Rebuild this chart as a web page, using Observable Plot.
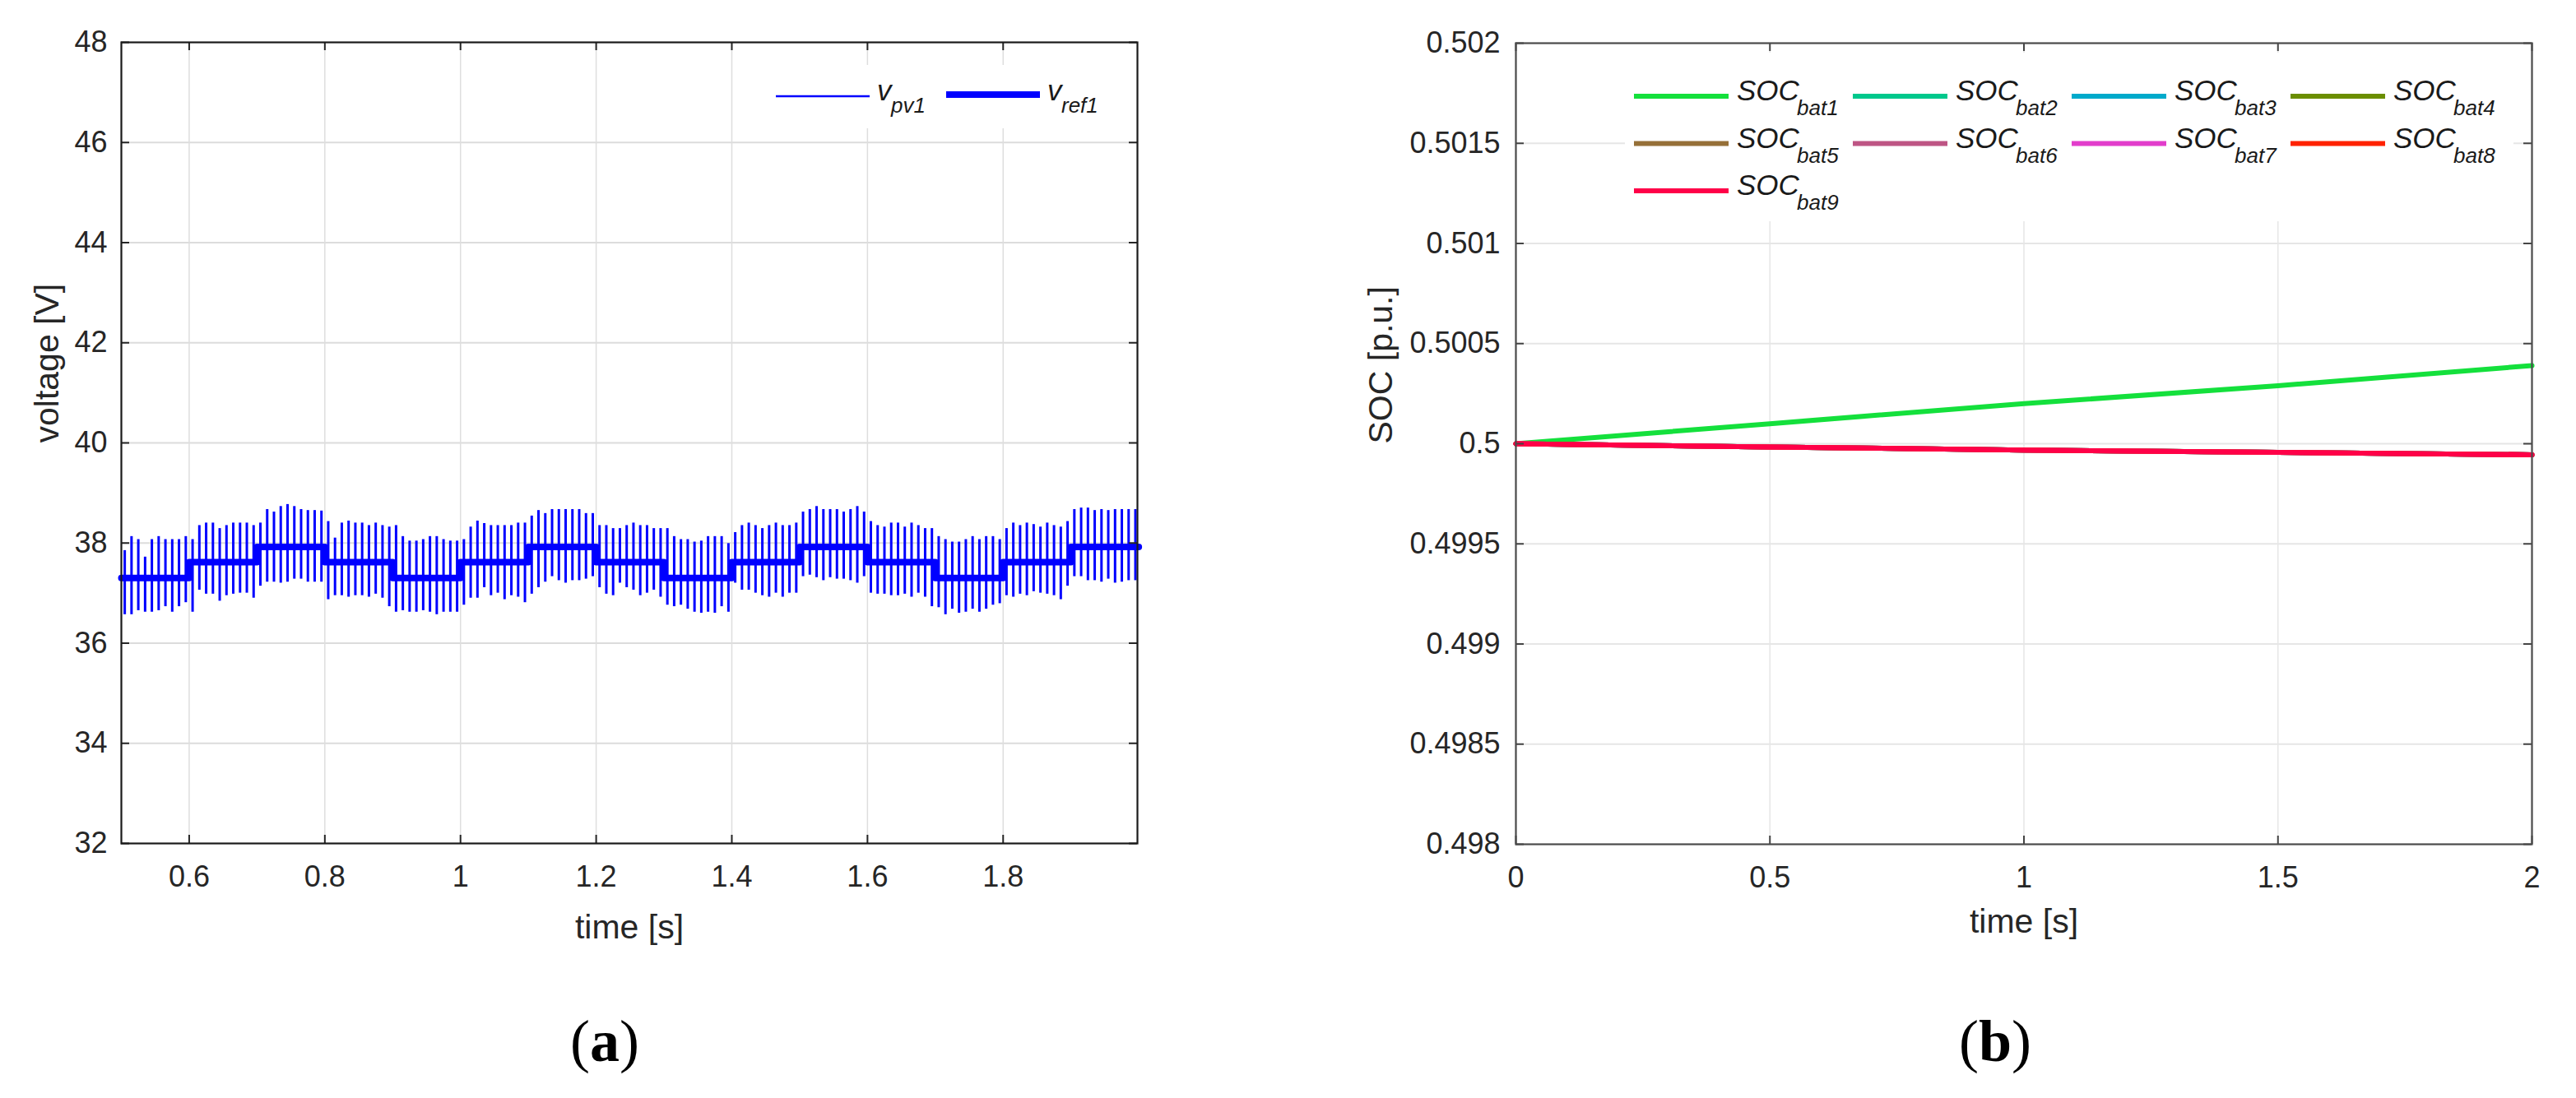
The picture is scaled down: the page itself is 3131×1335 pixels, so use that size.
<!DOCTYPE html>
<html>
<head>
<meta charset="utf-8">
<script src="https://cdn.jsdelivr.net/npm/d3@7"></script>
<script src="https://cdn.jsdelivr.net/npm/@observablehq/plot@0.6"></script>
<style>
  body { margin: 0; background: #fff; }
  #page { position: relative; width: 3131px; height: 1335px; overflow: hidden; background: #fff; }
  .fig { position: absolute; top: 0; }
  #overlay { position: absolute; left: 0; top: 0; pointer-events: none; }
</style>
</head>
<body>
<div id="page"></div>
<script>
// ---------- (a) PV voltage ----------
const timeTicksA = [0.6, 0.8, 1, 1.2, 1.4, 1.6, 1.8];
const voltTicks = [32, 34, 36, 38, 40, 42, 44, 46, 48];
// ripple cycles (one per 10 ms, starting at 0.505 s): upper and lower peaks of v_pv1 [V]
const pvStart = 0.505, pvPeriod = 0.01;
const pvHigh = [
  37.85,38.13,38.07,37.72,38.07,38.13,38.07,38.07,38.07,38.13,
  38.07,38.35,38.40,38.40,38.29,38.35,38.40,38.40,38.40,38.35,
  38.40,38.67,38.62,38.73,38.77,38.73,38.67,38.65,38.65,38.64,
  38.43,38.10,38.40,38.44,38.40,38.40,38.35,38.40,38.35,38.32,
  38.35,38.13,38.04,38.04,38.07,38.13,38.13,38.07,38.04,38.04,
  38.07,38.32,38.44,38.39,38.35,38.35,38.35,38.35,38.40,38.40,
  38.54,38.65,38.59,38.67,38.67,38.67,38.67,38.67,38.59,38.59,
  38.35,38.35,38.29,38.29,38.35,38.40,38.35,38.35,38.29,38.29,
  38.29,38.13,38.07,38.07,38.02,38.04,38.13,38.13,38.13,37.99,
  38.21,38.35,38.40,38.35,38.29,38.35,38.40,38.35,38.35,38.40,
  38.62,38.67,38.73,38.67,38.67,38.67,38.62,38.67,38.73,38.62,
  38.43,38.35,38.32,38.40,38.40,38.32,38.40,38.35,38.29,38.29,
  38.13,38.07,38.02,38.02,38.07,38.13,38.07,38.13,38.13,38.07,
  38.29,38.40,38.35,38.40,38.37,38.32,38.40,38.35,38.32,38.43,
  38.67,38.70,38.70,38.65,38.67,38.65,38.67,38.67,38.67,38.67
];
const pvLow = [
  36.57,36.57,36.65,36.62,36.62,36.65,36.73,36.62,36.73,36.81,
  36.62,37.06,36.98,36.98,36.84,36.95,36.98,37.00,37.00,36.90,
  37.14,37.22,37.22,37.20,37.22,37.28,37.28,37.22,37.22,37.22,
  36.87,36.95,36.95,36.92,36.95,36.95,36.92,36.98,36.90,36.73,
  36.62,36.65,36.62,36.62,36.65,36.62,36.57,36.62,36.62,36.62,
  36.76,36.90,36.90,37.11,36.95,37.00,36.87,36.95,36.92,36.81,
  36.98,37.11,37.22,37.33,37.25,37.20,37.25,37.25,37.28,37.33,
  37.11,36.98,36.95,37.20,37.11,37.06,36.95,37.00,37.06,36.92,
  36.76,36.73,36.76,36.68,36.62,36.60,36.62,36.60,36.73,36.62,
  37.20,37.06,37.06,37.00,36.95,36.92,37.00,36.92,37.00,37.00,
  37.33,37.36,37.31,37.25,37.31,37.28,37.28,37.25,37.20,37.33,
  37.00,36.98,36.98,36.95,36.95,36.98,36.92,37.00,36.92,36.73,
  36.71,36.57,36.68,36.60,36.62,36.68,36.62,36.68,36.76,36.79,
  36.95,36.92,36.98,36.95,37.03,37.00,36.98,36.95,36.87,37.14,
  37.33,37.33,37.25,37.25,37.22,37.28,37.20,37.22,37.25,37.25
];
// v_ref1 step levels
const refTime = [0.5,0.6,0.7,0.8,0.9,1.0,1.1,1.2,1.3,1.4,1.5,1.6,1.7,1.8,1.9,2.0];
const refVolt = [37.3,37.62,37.92,37.62,37.3,37.62,37.92,37.62,37.3,37.62,37.92,37.62,37.3,37.62,37.92,37.92];

// ---------- (b) SOC ----------
const timeTicksB = [0, 0.5, 1, 1.5, 2];
const socTicks = [0.498, 0.4985, 0.499, 0.4995, 0.5, 0.5005, 0.501, 0.5015, 0.502];
const socTime = [0, 0.5, 1, 1.5, 2];
const socBat1 = [0.5, 0.50010, 0.50020, 0.50029, 0.50039];
const socBat2 = [0.5, 0.499984, 0.499968, 0.499957, 0.499945];
const socBat3 = [0.5, 0.499984, 0.499968, 0.499957, 0.499945];
const socBat4 = [0.5, 0.499984, 0.499968, 0.499957, 0.499945];
const socBat5 = [0.5, 0.499984, 0.499968, 0.499957, 0.499945];
const socBat6 = [0.5, 0.499984, 0.499968, 0.499957, 0.499945];
const socBat7 = [0.5, 0.499984, 0.499968, 0.499957, 0.499945];
const socBat8 = [0.5, 0.499984, 0.499968, 0.499957, 0.499945];
const socBat9 = [0.5, 0.499984, 0.499968, 0.499957, 0.499945];
const batNames = ["bat1","bat2","bat3","bat4","bat5","bat6","bat7","bat8","bat9"];
const batColors = ["#14E03C","#00C88C","#00AACB","#6B8E00","#967038","#BE5584","#E23DCB","#FF2200","#FF0048"];

// ---------- build tables ----------
const pvCycles = pvHigh.map((h, i) => ({t: pvStart + i * pvPeriod, hi: h, lo: pvLow[i]}));
const refData = refTime.map((t, i) => ({t, v: refVolt[i]}));
const socSeries = [socBat1, socBat2, socBat3, socBat4, socBat5, socBat6, socBat7, socBat8, socBat9];
const socData = socSeries.map((s, k) => socTime.map((t, i) => ({t, soc: s[i], bat: batNames[k]})));

const font = "'Liberation Sans', Arial, Helvetica, sans-serif";
const ink = "#262626";
const fmtNum = d => String(+(+d).toFixed(4));

// ----- left chart -----
const HA = 1180, mtA = 51, mbA = 155, mlA = 147, mrA = 183;
const innerHA = HA - mtA - mbA, innerWA = 1565 - mlA - mrA;
const tick = 10;
const chartA = Plot.plot({
  width: 1565, height: HA,
  marginLeft: mlA, marginRight: mrA, marginTop: mtA, marginBottom: mbA,
  x: {domain: [0.5, 1.998]},
  y: {domain: [32, 48]},
  style: {fontFamily: font, fontSize: "36px", color: ink, background: "#fff", overflow: "visible"},
  marks: [
    Plot.ruleY(voltTicks.slice(1, -1), {y: d => d, stroke: "#dcdcdc", strokeWidth: 2}),
    Plot.ruleX(timeTicksA, {x: d => d, stroke: "#dedede", strokeWidth: 1.5}),
    Plot.ruleX(pvCycles, {x: "t", y1: "lo", y2: "hi", stroke: "#0000ff", strokeWidth: 3}),
    Plot.line(refData, {x: "t", y: "v", curve: "step-after", stroke: "#0000ff", strokeWidth: 8}),
    Plot.ruleX(timeTicksA, {x: d => d, insetTop: innerHA - tick, stroke: ink, strokeWidth: 2}),
    Plot.ruleX(timeTicksA, {x: d => d, insetBottom: innerHA - tick, stroke: ink, strokeWidth: 2}),
    Plot.ruleY(voltTicks, {y: d => d, insetRight: innerWA - tick, stroke: ink, strokeWidth: 2}),
    Plot.ruleY(voltTicks, {y: d => d, insetLeft: innerWA - tick, stroke: ink, strokeWidth: 2}),
    Plot.frame({stroke: "#1a1a1a", strokeWidth: 2.2}),
    Plot.axisX(timeTicksA, {tickSize: 0, tickPadding: 27, tickFormat: fmtNum, label: null}),
    Plot.axisY(voltTicks, {tickSize: 0, tickPadding: 17, tickFormat: fmtNum, label: null}),
    Plot.text(["voltage [V]"], {frameAnchor: "left", dx: -90, rotate: -90, text: d => d, fontSize: 41, lineAnchor: "middle", fill: ink}),
    Plot.text(["time [s]"], {frameAnchor: "bottom", dy: 102, text: d => d, fontSize: 41, lineAnchor: "middle", fill: ink})
  ]
});

// ----- right chart -----
const HB = 1180, mtB = 52, mbB = 154, mlB = 277, mrB = 54;
const innerHB = HB - mtB - mbB, innerWB = 1566 - mlB - mrB;
const chartB = Plot.plot({
  width: 1566, height: HB,
  marginLeft: mlB, marginRight: mrB, marginTop: mtB, marginBottom: mbB,
  x: {domain: [0, 2]},
  y: {domain: [0.498, 0.502]},
  style: {fontFamily: font, fontSize: "36px", color: ink, background: "#fff", overflow: "visible"},
  marks: [
    Plot.ruleY(socTicks.slice(1, -1), {y: d => d, stroke: "#e6e6e6", strokeWidth: 2}),
    Plot.ruleX(timeTicksB.slice(1, -1), {x: d => d, stroke: "#e6e6e6", strokeWidth: 1.5}),
    ...socData.map((d, k) => Plot.line(d, {x: "t", y: "soc", stroke: batColors[k], strokeWidth: 6})),
    Plot.ruleX(timeTicksB, {x: d => d, insetTop: innerHB - tick, stroke: "#444", strokeWidth: 2}),
    Plot.ruleX(timeTicksB, {x: d => d, insetBottom: innerHB - tick, stroke: "#444", strokeWidth: 2}),
    Plot.ruleY(socTicks, {y: d => d, insetRight: innerWB - tick, stroke: "#444", strokeWidth: 2}),
    Plot.ruleY(socTicks, {y: d => d, insetLeft: innerWB - tick, stroke: "#444", strokeWidth: 2}),
    Plot.frame({stroke: "#4a4a4a", strokeWidth: 2.2}),
    Plot.axisX(timeTicksB, {tickSize: 0, tickPadding: 27, tickFormat: fmtNum, label: null}),
    Plot.axisY(socTicks, {tickSize: 0, tickPadding: 19, tickFormat: fmtNum, label: null}),
    Plot.text(["SOC [p.u.]"], {frameAnchor: "left", dx: -164, rotate: -90, text: d => d, fontSize: 41, lineAnchor: "middle", fill: ink}),
    Plot.text(["time [s]"], {frameAnchor: "bottom", dy: 94, text: d => d, fontSize: 41, lineAnchor: "middle", fill: ink})
  ]
});

const page = document.getElementById("page");
chartA.classList.add("fig"); chartA.style.left = "0px";
chartB.classList.add("fig"); chartB.style.left = "1565px";
page.appendChild(chartA);
page.appendChild(chartB);

// ----- legends and captions (overlay) -----
const NS = "http://www.w3.org/2000/svg";
const ov = document.createElementNS(NS, "svg");
ov.setAttribute("id", "overlay");
ov.setAttribute("width", 3131); ov.setAttribute("height", 1335);
ov.style.fontFamily = font;
page.appendChild(ov);
function el(tag, attrs, text) {
  const e = document.createElementNS(NS, tag);
  for (const k in attrs) e.setAttribute(k, attrs[k]);
  if (text != null) e.textContent = text;
  ov.appendChild(e);
  return e;
}
// legend (a)
el("rect", {x: 905, y: 79, width: 472, height: 77, fill: "#fff"});
const legA = [{x: 943, y: 117, w: 2.7, main: "v", sub: "pv1"}, {x: 1150, y: 115, w: 8, main: "v", sub: "ref1"}];
legA.forEach(d => {
  el("line", {x1: d.x, x2: d.x + 114, y1: d.y, y2: d.y, stroke: "#0000ff", "stroke-width": d.w});
  el("text", {x: d.x + 123, y: 122, "font-size": 35, "font-style": "italic", fill: "#1a1a1a"}, d.main);
  el("text", {x: d.x + 140, y: 137, "font-size": 26, "font-style": "italic", fill: "#1a1a1a"}, d.sub);
});
// legend (b)
el("rect", {x: 1975, y: 64, width: 1080, height: 205, fill: "#fff"});
batNames.forEach((b, k) => {
  const col = k % 4, row = Math.floor(k / 4);
  const x0 = 1986 + col * 266, y0 = 117 + row * 57.5;
  el("line", {x1: x0, x2: x0 + 115, y1: y0, y2: y0, stroke: batColors[k], "stroke-width": 6});
  el("text", {x: x0 + 125, y: y0 + 5, "font-size": 35, "font-style": "italic", fill: "#1a1a1a"}, "SOC");
  el("text", {x: x0 + 198, y: y0 + 23, "font-size": 26, "font-style": "italic", fill: "#1a1a1a"}, b);
});
// captions
[["a", 735], ["b", 2425]].forEach(([c, x]) => {
  const t = el("text", {x, y: 1290, "text-anchor": "middle", "font-size": 72, "font-family": "'Liberation Serif', 'Times New Roman', serif", fill: "#000"});
  const p1 = document.createElementNS(NS, "tspan"); p1.textContent = "("; t.appendChild(p1);
  const p2 = document.createElementNS(NS, "tspan"); p2.textContent = c; p2.setAttribute("font-weight", "bold"); t.appendChild(p2);
  const p3 = document.createElementNS(NS, "tspan"); p3.textContent = ")"; t.appendChild(p3);
});
</script>
</body>
</html>
